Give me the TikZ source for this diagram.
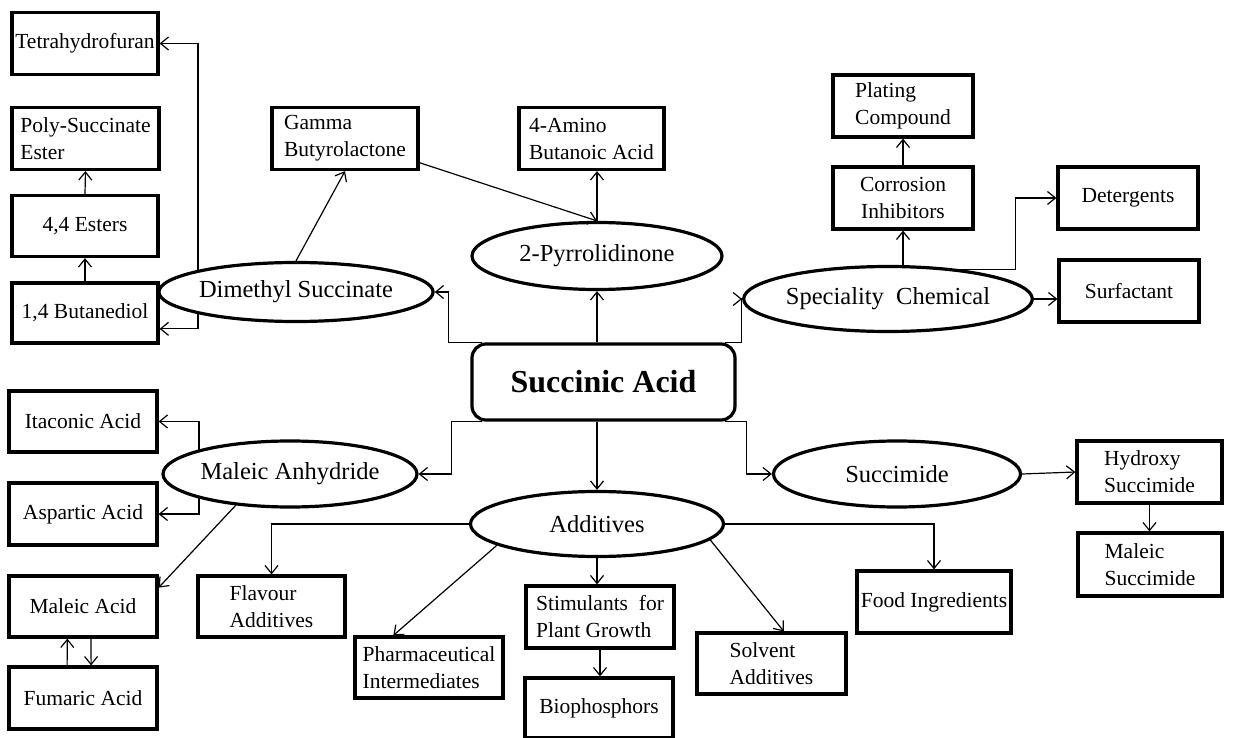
\documentclass[tikz,border=0pt]{standalone}
\usepackage{fontspec}
\setmainfont{Liberation Serif}
\usetikzlibrary{shapes.geometric, arrows.meta, calc}

\begin{document}
\begin{tikzpicture}[x=1pt, y=-1pt,
  box/.style={rectangle, draw, line width=3.2pt, minimum width=146pt, minimum height=62pt,
    inner sep=0pt, align=left, font=\fontsize{21.5}{27}\selectfont},
  oval/.style={ellipse, draw, line width=3.2pt, minimum width=250pt, minimum height=65pt,
    inner sep=0pt, font=\fontsize{24.5}{29}\selectfont},
  link/.style={-{Straight Barb[length=8pt, width=13pt]}, line width=1.2pt}]
\useasboundingbox (0,0) rectangle (1235,738);

% centre
\node[rectangle, draw, rounded corners=14pt, line width=3.2pt, minimum width=263pt, minimum height=76pt,
  font=\fontsize{32}{36}\selectfont\bfseries] (SA) at (603.5, 382) {Succinic Acid};

% ovals
\node[oval, minimum width=253pt, minimum height=59pt] (DMS) at (296, 292) {Dimethyl Succinate};
\node[oval, minimum height=67pt] (PYR) at (597, 256) {2-Pyrrolidinone};
\node[oval, minimum width=240pt] (SC) at (888, 299) {Speciality\ \ Chemical};
\node[oval, minimum width=254pt, minimum height=66pt] (MA) at (290, 474) {Maleic Anhydride};
\node[oval, minimum width=247pt, minimum height=66pt] (SUC) at (897, 474) {Succimide};
\node[oval, minimum width=253pt] (ADD) at (597, 524) {Additives};

% boxes, upper left
\node[box] (THF) at (85, 43.5) {Tetrahydrofuran};
\node[box, minimum width=147pt] (PSE) at (85.5, 138.5) {Poly-Succinate\\Ester};
\node[box, minimum height=61pt] (E44) at (85, 226) {4,4 Esters};
\node[box, minimum height=60pt] (BD) at (85, 313) {1,4 Butanediol};
\node[box] (GB) at (345, 138.5) {Gamma\\Butyrolactone};
\node[box, minimum width=145pt] (AB) at (591.5, 138.5) {4-Amino\\Butanoic Acid};

% boxes, upper right
\node[box, minimum width=140pt] (PC) at (903, 106) {Plating\\Compound};
\node[box, minimum width=140pt, align=center] (CI) at (903, 198) {Corrosion\\Inhibitors};
\node[box, minimum width=140pt] (DET) at (1128, 198) {Detergents};
\node[box, minimum width=140pt] (SUR) at (1129, 291) {Surfactant};

% boxes, lower left
\node[box, minimum width=148pt, minimum height=61pt] (IA) at (83, 421.5) {Itaconic Acid};
\node[box, minimum width=148pt] (AS) at (83, 514) {Aspartic Acid};
\node[box, minimum width=148pt, minimum height=61pt] (MAc) at (83, 606.5) {Maleic Acid};
\node[box, minimum width=148pt] (FA) at (83, 698) {Fumaric Acid};

% boxes, lower middle
\node[box, minimum width=147pt, minimum height=61pt] (FL) at (271.5, 606.5) {Flavour\\Additives};
\node[box, minimum width=148pt, minimum height=61pt] (PH) at (429, 667.5) {Pharmaceutical\\Intermediates};
\node[box, minimum width=148pt] (ST) at (600, 617) {Stimulants\ \ for\\Plant Growth};
\node[box, minimum width=148pt, minimum height=60pt] (BP) at (599, 708) {Biophosphors};
\node[box, minimum width=149pt, minimum height=61pt] (SO) at (771.5, 663.5) {Solvent\\Additives};
\node[box, minimum width=154pt] (FI) at (934, 602) {Food Ingredients};

% boxes, lower right
\node[box, minimum width=145pt] (HS) at (1149.5, 472) {Hydroxy\\Succimide};
\node[box, minimum width=144pt, minimum height=63pt] (MS) at (1150, 564.5) {Maleic\\Succimide};

% from succinic acid
\draw[link] ($(SA.north west)+(12,0)$) -- ++(-34,0) |- (DMS.east);
\draw[link] (PYR.south |- SA.north) -- (PYR.south);
\draw[link] ($(SA.north east)+(-12,0)$) -- ++(17,0) |- (SC.west);
\draw[link] ($(SA.south west)+(12,0)$) -- ++(-31,0) |- (MA.east);
\draw[link] ($(SA.south east)+(-12,0)$) -- ++(22,0) |- (SUC.west);
\draw[link] (ADD.north |- SA.south) -- (ADD.north);

% dimethyl succinate branch
\draw[link] (DMS.north west) |- (THF.east);
\draw[link] (DMS.south west) |- (BD.-12);
\draw[link] (BD.north) -- (E44.south);
\draw[link] (E44.north) -- (PSE.south);
\draw[link] (DMS.north) -- (GB.south);
\draw[link] (GB.-18) -- (PYR.north);
\draw[link] (PYR.north) -- (PYR.north |- AB.south);

% speciality chemical branch
\draw[link] (CI.south |- SC.north) -- (CI.south);
\draw[link] (CI.north) -- (PC.south);
\draw[link] (SC.23) -- ++(57,0) |- (DET.west);
\draw[link] (SC.east) -- (SC.east -| SUR.west);

% maleic anhydride branch
\draw[link] (MA.north west) |- (IA.east);
\draw[link] (MA.south west) |- (AS.east);
\draw[link] (MA.210) -- (MAc.14);
\draw[link] (FA.116) -- (MAc.244);
\draw[link] (MAc.284) -- (FA.76);

% additives branch
\draw[link] (ADD.west) -| (FL.north);
\draw[link] (ADD.192) -- (PH.138);
\draw[link] (ADD.south) -- (ADD.south |- ST.north);
\draw[link] (ST.south) -- (ST.south |- BP.north);
\draw[link] (ADD.-8) -- (SO.69);
\draw[link] (ADD.east) -| (FI.north);

% succimide branch
\draw[link] (SUC.east) -- (HS.west);
\draw[link] (HS.south) -- (HS.south |- MS.north);
\end{tikzpicture}
\end{document}
